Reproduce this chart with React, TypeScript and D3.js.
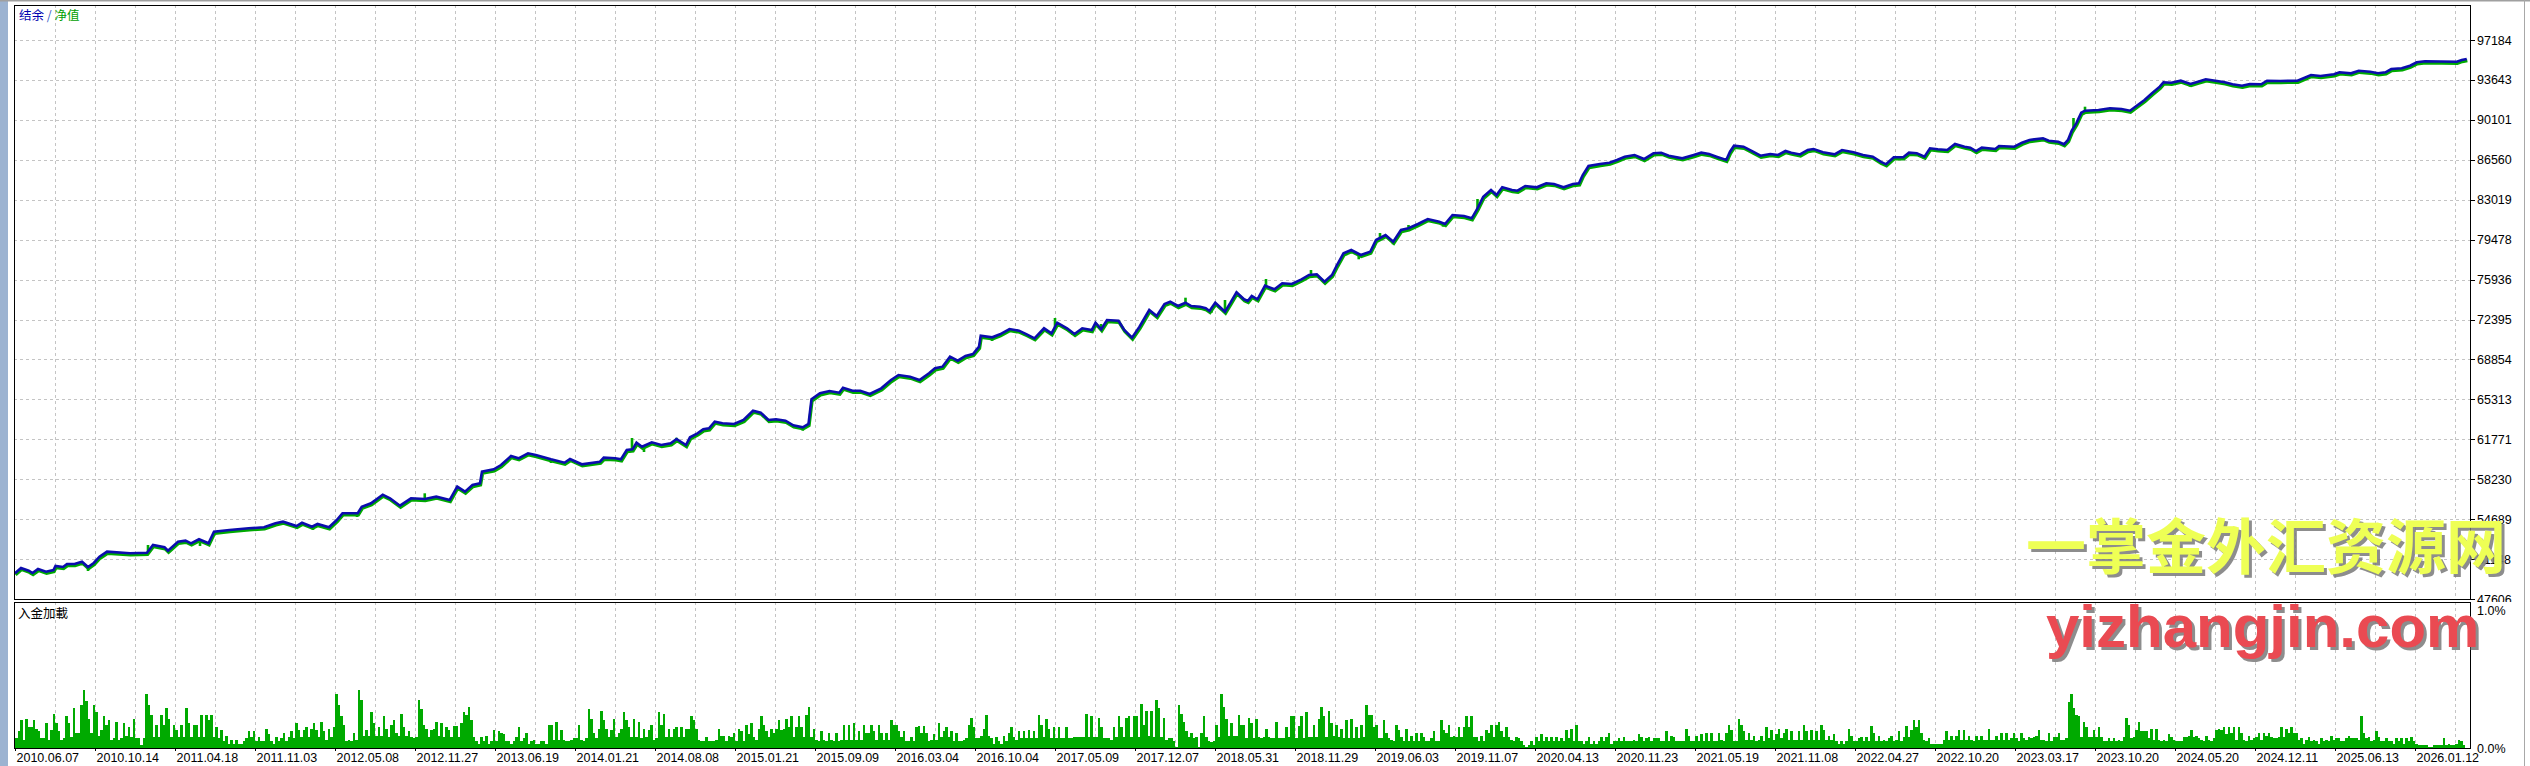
import React from 'react';
import * as d3 from 'd3';

// right axis of the balance panel
const balanceTicks = [47606, 51148, 54689, 58230, 61771, 65313, 68854, 72395, 75936, 79478, 83019, 86560, 90101, 93643, 97184];

// date labels under the chart, one every 32 trades
const dateLabels = [
  '2010.06.07', '2010.10.14', '2011.04.18', '2011.11.03', '2012.05.08', '2012.11.27', '2013.06.19',
  '2014.01.21', '2014.08.08', '2015.01.21', '2015.09.09', '2016.03.04', '2016.10.04', '2017.05.09',
  '2017.12.07', '2018.05.31', '2018.11.29', '2019.06.03', '2019.11.07', '2020.04.13', '2020.11.23',
  '2021.05.19', '2021.11.08', '2022.04.27', '2022.10.20', '2023.03.17', '2023.10.20', '2024.05.20',
  '2024.12.11', '2025.06.13', '2026.01.12',
];

const TRADES = 982;

// balance curve: [trade number, balance]
const balance: [number, number][] = [
  [0, 49885], [2.4, 50355], [5.5, 50116], [7, 49912], [9.2, 50267], [12.4, 50027], [15.4, 50178], [16.2, 50533],
  [19.2, 50444], [20.8, 50710], [23.8, 50710], [26.8, 50914], [29.2, 50444], [31.5, 50799], [33.8, 51358], [36.8, 51801],
  [46, 51659], [52.8, 51712], [55.2, 52395], [59.8, 52191], [61.2, 51890], [65.2, 52688], [68.2, 52777], [70.4, 52546],
  [73.6, 52901], [77.4, 52546], [79.6, 53575], [85.8, 53726], [93.5, 53876], [99.6, 53965], [104.2, 54320], [107.2, 54462],
  [112.6, 54080], [114.8, 54373], [118.8, 54018], [121, 54258], [125.6, 53965], [128.7, 54613], [131, 55207], [137.1, 55207],
  [138.7, 55792], [142.4, 56094], [147.1, 56856], [150, 56537], [154, 55881], [158.4, 56537], [163.9, 56475], [168.5, 56679],
  [173.9, 56386], [176.9, 57566], [180, 57122], [183, 57717], [186, 57867], [186.8, 58896], [191.5, 59109], [194.4, 59490],
  [198.4, 60289], [201.4, 60085], [205.2, 60528], [208.3, 60377], [214.4, 59996], [219.8, 59694], [222, 60023], [226.7, 59552],
  [234, 59783], [235.5, 60138], [240.1, 60085], [242.4, 59996], [244.7, 60821], [247, 60883], [248.6, 61468], [250.8, 61113],
  [254.7, 61504], [258.5, 61264], [262.3, 61415], [264.6, 61796], [268.4, 61264], [270, 61947], [273, 62302], [275.3, 62657],
  [277.6, 62745], [279.9, 63331], [283, 63189], [287.6, 63127], [291.4, 63481], [295.2, 64306], [298.3, 64129], [301.4, 63481],
  [304.4, 63544], [308.2, 63419], [311.3, 63011], [315.1, 62834], [317.4, 63127], [318.6, 65317], [322, 65850], [325.8, 66054],
  [329.7, 65903], [331.2, 66346], [335, 66080], [338.1, 66080], [341.9, 65787], [346.5, 66293], [350.4, 67029], [353.4, 67473],
  [358, 67322], [361.8, 67029], [365.6, 67623], [368, 68067], [371, 68209], [374, 69096], [377.1, 68741], [380.2, 69158],
  [383.2, 69335], [385.6, 69983], [386.3, 70958], [390.9, 70816], [394, 71082], [397.8, 71552], [401.6, 71402], [404.7, 71082],
  [407.8, 70728], [411.6, 71614], [414.6, 71171], [416.9, 72111], [420.8, 71614], [423.8, 71109], [426.9, 71614], [430.7, 71464],
  [432.2, 72111], [434.5, 71526], [436.8, 72351], [441.4, 72289], [443.7, 71464], [446.8, 70781], [449.8, 71756], [453.7, 73237],
  [456.7, 72705], [459.8, 73770], [462.1, 73974], [465.2, 73592], [468.2, 73885], [470.5, 73592], [474, 73530], [476.3, 73388],
  [477.8, 73149], [480.1, 73885], [484, 73087], [486.2, 73885], [488.6, 74807], [491.6, 74186], [493.1, 74036], [494.7, 74479],
  [497, 74186], [500, 75393], [503.8, 75073], [506.9, 75606], [510.7, 75543], [514.6, 75960], [517.6, 76342], [520.7, 76404],
  [523.8, 75747], [526.8, 76342], [528.8, 77228], [531.4, 78266], [534.5, 78559], [538.3, 78115], [542.1, 78408], [544.4, 79446],
  [548.2, 79889], [551.3, 79295], [554.4, 80333], [557.4, 80483], [561.2, 80865], [565.1, 81308], [569.7, 81069], [572, 80865],
  [575, 81663], [579.6, 81574], [582.7, 81370], [585, 82257], [587.3, 83286], [590.4, 83880], [592.6, 83437], [594.9, 84120],
  [598.8, 83880], [601, 83818], [604.1, 84235], [608.7, 84120], [612.5, 84474], [615.6, 84412], [619.4, 84120], [623.2, 84412],
  [625.6, 84474], [627.1, 85211], [629.4, 86009], [634, 86186], [637.8, 86302], [640.8, 86541], [643.9, 86834], [647.8, 86984],
  [651.6, 86630], [655.4, 87135], [658.5, 87188], [661.5, 86922], [666.9, 86692], [671.5, 86984], [674.5, 87188], [677.6, 87073],
  [680.6, 86834], [684.5, 86541], [686, 87277], [687.6, 87809], [691.4, 87721], [695.2, 87277], [698.2, 86922], [702.1, 87073],
  [705.2, 86984], [708.2, 87339], [710.5, 87188], [714, 87030], [717.1, 87428], [719.4, 87517], [723.2, 87224], [727.8, 87047],
  [730.8, 87428], [735.4, 87224], [739.2, 86984], [743.1, 86834], [746.2, 86390], [748.4, 86159], [751.5, 86780], [755.3, 86780],
  [757.6, 87188], [760.7, 87135], [763.8, 86834], [766, 87579], [769.1, 87490], [772.9, 87428], [776, 87960], [779.8, 87721],
  [782.1, 87632], [784.4, 87339], [786.7, 87632], [792.1, 87517], [793.6, 87783], [799.7, 87721], [802.8, 88076], [805.8, 88315],
  [811.2, 88466], [813.5, 88253], [817.3, 88164], [819.6, 87933], [821.2, 88315], [822.7, 89140], [824.5, 89796], [826.5, 90736],
  [828, 90913], [833.4, 90975], [838, 91126], [842.6, 91064], [846, 90913], [848.7, 91357], [851.8, 91862], [854.8, 92457],
  [857.9, 93042], [859.4, 93432], [862.5, 93396], [866.3, 93574], [870.2, 93281], [873.2, 93485], [876.3, 93698], [880.8, 93547],
  [883.9, 93432], [887, 93255], [890.8, 93131], [893.9, 93281], [898.5, 93255], [900.8, 93574], [906.1, 93547], [913, 93574],
  [918.4, 94080], [922.2, 93991], [927.6, 94142], [929.8, 94319], [934.4, 94230], [937.5, 94461], [942.1, 94372], [945.2, 94230],
  [948.2, 94319], [950.5, 94612], [954.7, 94674], [958, 94905], [960.7, 95206], [964, 95294], [976.7, 95259], [978.7, 95410],
  [980.7, 95499],
];

// equity where it moves away from the balance: [trade number, equity]
const equityMoves: [number, number][] = [
  [6.8, 49735], [29.2, 50089], [53.2, 52395], [74, 52307], [119.2, 53726], [136.8, 54879], [163.9, 56981], [214.4, 59668],
  [246.8, 61885], [251.6, 60643], [264.6, 61912], [315.1, 62533], [390.8, 70488], [416, 72528], [423, 71020], [434.4, 71996],
  [446.8, 70665], [468.2, 74329], [478.6, 72998], [484, 74124], [500.4, 75987], [503.8, 74861], [518.4, 76786], [537.5, 77734],
  [546, 80067], [551.2, 79065], [557.4, 80776], [571.2, 80625], [582.7, 81157], [585, 83082], [685.2, 86452], [748.4, 86070],
  [763.6, 86630], [784.4, 87135], [819.6, 87783], [823.4, 90266], [828, 91268], [870, 93042], [890.8, 92900],
];

// deposit load per trade, in hundredths of a percent
const loadPart1 = [
  7, 12, 20, 6, 21, 15, 15, 20, 14, 12, 7, 7, 18, 6, 13, 25,
  18, 12, 6, 7, 23, 18, 8, 29, 11, 11, 31, 42, 34, 21, 11, 31,
  26, 9, 13, 23, 17, 20, 6, 7, 19, 6, 7, 18, 9, 15, 8, 21,
  7, 7, 2, 7, 39, 31, 24, 8, 17, 8, 24, 17, 29, 21, 8, 17,
  13, 8, 17, 8, 29, 18, 8, 17, 17, 8, 24, 8, 24, 20, 24, 8,
  15, 7, 13, 5, 9, 3, 6, 3, 6, 3, 3, 5, 7, 12, 8, 12,
  5, 8, 5, 5, 14, 10, 5, 3, 8, 5, 7, 11, 5, 8, 12, 7,
  18, 13, 8, 13, 15, 8, 14, 18, 13, 8, 19, 12, 6, 14, 8, 15,
  39, 31, 23, 17, 5, 6, 5, 11, 6, 42, 35, 9, 13, 9, 26, 18,
  9, 15, 9, 23, 14, 8, 17, 20, 11, 9, 25, 15, 9, 12, 8, 7,
  8, 35, 28, 17, 14, 8, 13, 14, 19, 9, 18, 8, 15, 13, 8, 16,
  16, 8, 18, 26, 24, 30, 20, 8, 5, 3, 8, 5, 9, 3, 5, 13,
  5, 12, 11, 10, 5, 5, 3, 5, 8, 15, 5, 7, 11, 3, 5, 6,
  3, 3, 5, 5, 3, 17, 17, 6, 19, 6, 13, 6, 5, 5, 6, 7,
  7, 17, 6, 5, 7, 28, 21, 11, 7, 14, 27, 20, 14, 8, 13, 21,
  8, 11, 14, 26, 20, 15, 8, 21, 8, 19, 7, 14, 8, 13, 17, 6,
];
const loadPart2 = [
  7, 26, 17, 25, 8, 14, 8, 14, 15, 8, 15, 8, 14, 14, 23, 20,
  14, 6, 5, 5, 8, 5, 5, 5, 6, 14, 9, 9, 5, 9, 8, 11,
  5, 14, 12, 5, 17, 10, 18, 8, 6, 14, 23, 17, 12, 8, 14, 11,
  14, 20, 13, 14, 21, 15, 23, 8, 15, 23, 15, 8, 24, 30, 8, 14,
  6, 5, 12, 6, 5, 11, 6, 5, 11, 5, 6, 17, 6, 17, 6, 18,
  6, 12, 6, 17, 11, 11, 17, 12, 6, 17, 11, 6, 11, 6, 20, 17,
  17, 12, 8, 12, 5, 5, 8, 5, 15, 16, 11, 16, 11, 5, 6, 10,
  6, 18, 8, 12, 15, 8, 12, 5, 11, 5, 5, 6, 7, 17, 22, 15,
  7, 7, 9, 14, 24, 9, 7, 3, 8, 5, 3, 9, 5, 11, 15, 8,
  6, 12, 7, 12, 7, 13, 7, 12, 7, 24, 17, 8, 21, 14, 7, 15,
  7, 15, 7, 7, 15, 7, 7, 8, 8, 8, 8, 8, 25, 8, 23, 8,
  8, 22, 15, 7, 7, 7, 6, 15, 8, 23, 15, 8, 22, 23, 8, 23,
  23, 8, 32, 17, 27, 9, 27, 8, 35, 29, 8, 22, 6, 7, 7, 5,
  1, 31, 25, 19, 12, 8, 11, 7, 8, 1, 11, 23, 8, 5, 4, 5,
  17, 8, 39, 30, 21, 9, 18, 9, 9, 24, 17, 17, 7, 22, 18, 7,
  21, 8, 7, 8, 14, 8, 7, 7, 19, 7, 7, 7, 15, 8, 23, 23,
];
const loadPart3 = [
  7, 16, 23, 7, 26, 8, 8, 17, 8, 21, 30, 23, 8, 27, 18, 9,
  17, 8, 14, 7, 20, 7, 21, 7, 15, 7, 17, 8, 31, 24, 24, 15,
  17, 7, 7, 20, 11, 7, 6, 5, 17, 13, 8, 5, 14, 5, 9, 5,
  11, 5, 11, 8, 5, 5, 7, 12, 5, 5, 20, 13, 11, 17, 8, 9,
  8, 15, 8, 15, 23, 15, 23, 8, 8, 5, 9, 5, 13, 11, 17, 8,
  17, 19, 12, 8, 15, 8, 6, 5, 8, 7, 5, 2, 1, 2, 5, 2,
  8, 5, 10, 5, 8, 5, 8, 5, 8, 5, 7, 5, 13, 7, 14, 5,
  17, 5, 5, 3, 5, 8, 3, 5, 3, 5, 8, 5, 8, 11, 3, 5,
  5, 7, 5, 8, 5, 5, 5, 6, 5, 10, 8, 5, 7, 8, 5, 7,
  7, 7, 5, 5, 12, 5, 9, 8, 5, 5, 5, 5, 14, 9, 5, 5,
  9, 5, 10, 5, 11, 5, 11, 5, 5, 11, 6, 5, 11, 17, 13, 5,
  5, 21, 17, 12, 6, 11, 6, 9, 5, 6, 9, 5, 15, 7, 13, 6,
  10, 14, 7, 11, 14, 6, 12, 6, 6, 12, 6, 17, 12, 6, 13, 6,
  12, 6, 17, 13, 6, 9, 6, 10, 5, 3, 5, 3, 5, 14, 9, 5,
  5, 7, 8, 5, 8, 5, 16, 11, 5, 9, 5, 6, 5, 7, 9, 5,
  6, 12, 5, 8, 16, 8, 13, 20, 15, 20, 11, 6, 5, 7, 3, 3,
];
const loadPart4 = [
  3, 3, 3, 6, 12, 6, 9, 6, 9, 13, 6, 13, 6, 9, 6, 5,
  9, 6, 9, 6, 6, 14, 6, 6, 9, 6, 11, 6, 11, 6, 7, 11,
  7, 5, 11, 7, 6, 8, 7, 8, 9, 13, 6, 6, 5, 11, 5, 8,
  8, 11, 6, 6, 7, 33, 39, 29, 24, 23, 8, 19, 15, 8, 8, 13,
  8, 15, 8, 5, 5, 7, 5, 7, 5, 6, 5, 8, 22, 17, 7, 8,
  13, 19, 12, 12, 12, 7, 14, 6, 14, 6, 5, 6, 5, 10, 8, 6,
  5, 5, 5, 8, 8, 9, 13, 8, 9, 7, 6, 5, 9, 6, 5, 7,
  13, 14, 13, 15, 10, 15, 11, 15, 6, 15, 11, 6, 5, 9, 6, 7,
  8, 11, 6, 11, 9, 11, 8, 7, 7, 8, 15, 8, 14, 11, 15, 11,
  11, 6, 7, 3, 6, 8, 5, 6, 5, 3, 7, 5, 6, 5, 9, 6,
  7, 7, 5, 5, 7, 9, 7, 7, 7, 6, 23, 11, 7, 8, 5, 6,
  12, 8, 5, 5, 7, 5, 5, 3, 7, 5, 7, 3, 7, 5, 8, 5,
  3, 2, 2, 2, 2, 1, 1, 2, 2, 2, 2, 7, 2, 3, 2, 2,
  3, 6, 5, 2,
];

const W = 2530;
const H = 766;
const L = 14, R = 2471, T = 5, MB = 599, ST = 602, SB = 748;

const BLUE = '#0c0cae';
const GREEN = '#00aa00';
const GRID = '#c4c4c4';
const AXIS_FONT = '"Liberation Sans", Arial, sans-serif';
const CJK_FONT = '"Noto Sans CJK SC", sans-serif';

const App: React.FC = () => {
  const x = d3.scaleLinear().domain([0, TRADES]).range([15, 2470]);
  const y = d3.scaleLinear().domain([47606, 97184]).range([599, 40]);
  const yLoad = d3.scaleLinear().domain([0, 1]).range([SB, 610]);

  const load = [...loadPart1, ...loadPart2, ...loadPart3, ...loadPart4];

  const line = d3.line<[number, number]>()
    .x(d => x(d[0]))
    .y(d => y(d[1]));

  const bisect = d3.bisector((d: [number, number]) => d[0]).left;
  const balanceAt = (n: number) => {
    const i = bisect(balance, n);
    if (i <= 0) return balance[0][1];
    if (i >= balance.length) return balance[balance.length - 1][1];
    const a = balance[i - 1], b = balance[i];
    return a[1] + (b[1] - a[1]) * (n - a[0]) / (b[0] - a[0]);
  };

  const vGrid = d3.range(16, TRADES, 16);
  const barW = x(1) - x(0);

  return (
    <svg width={W} height={H} style={{ position: 'absolute', left: 0, top: 0, display: 'block', background: '#fff' }}>
      <defs>
        <clipPath id="mainLabels">
          <rect x={R} y={0} width={W - R} height={ST} />
        </clipPath>
        <clipPath id="mainPlot">
          <rect x={L} y={T} width={R - L} height={MB - T} />
        </clipPath>
      </defs>

      {/* window chrome */}
      <rect x={0} y={0} width={8} height={H} fill="#9cb3d1" />
      <rect x={0} y={0} width={W} height={1.5} fill="#a0a0a0" />
      <line x1={2524.5} x2={2524.5} y1={0} y2={H} stroke="#a8a8a8" />

      {/* grid */}
      {vGrid.map(n => (
        <g key={'v' + n}>
          <line x1={Math.round(x(n)) + 0.5} x2={Math.round(x(n)) + 0.5} y1={T} y2={MB}
            stroke={GRID} strokeDasharray="3,3" />
          <line x1={Math.round(x(n)) + 0.5} x2={Math.round(x(n)) + 0.5} y1={ST} y2={SB}
            stroke={GRID} strokeDasharray="3,3" />
        </g>
      ))}
      {balanceTicks.slice(1).map(t => (
        <line key={'h' + t} x1={L} x2={R} y1={Math.round(y(t)) + 0.5} y2={Math.round(y(t)) + 0.5}
          stroke={GRID} strokeDasharray="3,3" />
      ))}

      {/* equity and balance */}
      <g clipPath="url(#mainPlot)">
        <path d={line(balance) ?? ''} fill="none" stroke={GREEN} strokeWidth={3.2}
          transform="translate(0.6,1.6)" />
        {equityMoves.map(([n, v]) => (
          <line key={'e' + n} x1={x(n)} x2={x(n)} y1={y(balanceAt(n)) + 1} y2={y(v)}
            stroke={GREEN} strokeWidth={2.6} />
        ))}
        <path d={line(balance) ?? ''} fill="none" stroke={BLUE} strokeWidth={2.6} />
      </g>

      {/* deposit load bars */}
      <g shapeRendering="crispEdges">
        {load.map((v, i) => (
          <rect key={'b' + i} x={x(i)} width={barW} y={yLoad(v / 100)} height={SB - yLoad(v / 100)} fill={GREEN} />
        ))}
      </g>

      {/* frames */}
      <rect x={L + 0.5} y={T + 0.5} width={R - L - 1} height={MB - T} fill="none" stroke="#000" />
      <rect x={L + 0.5} y={ST + 0.5} width={R - L - 1} height={SB - ST} fill="none" stroke="#000" />

      {/* right axis */}
      <g clipPath="url(#mainLabels)">
        {balanceTicks.map(t => (
          <g key={'t' + t}>
            <line x1={R} x2={R + 4} y1={Math.round(y(t)) + 0.5} y2={Math.round(y(t)) + 0.5} stroke="#000" />
            <text x={2477} y={y(t)} dy="0.36em" fontFamily={AXIS_FONT} fontSize={12.5} fill="#000">{t}</text>
          </g>
        ))}
      </g>
      <text x={2477} y={yLoad(1)} dy="0.36em" fontFamily={AXIS_FONT} fontSize={12.5} fill="#000">1.0%</text>
      <text x={2477} y={yLoad(0)} dy="0.36em" fontFamily={AXIS_FONT} fontSize={12.5} fill="#000">0.0%</text>

      {/* bottom axis */}
      {dateLabels.map((d, i) => (
        <g key={d}>
          <line x1={Math.round(x(i * 32)) + 0.5} x2={Math.round(x(i * 32)) + 0.5} y1={SB} y2={SB + 3} stroke="#000" />
          <text x={x(i * 32) + 1.5} y={762} fontFamily={AXIS_FONT} fontSize={12.5} fill="#000">{d}</text>
        </g>
      ))}

      {/* panel titles */}
      <text x={19} y={20} fontFamily={CJK_FONT} fontSize={12.5}>
        <tspan fill="#0000b0">结余 </tspan>
        <tspan fill="#3a5cc8">/</tspan>
        <tspan fill="#00a000"> 净值</tspan>
      </text>
      <text x={18} y={618} fontFamily={CJK_FONT} fontSize={12.5} fill="#000">入金加載</text>

      {/* watermark */}
      <g fontFamily={CJK_FONT} fontWeight={700} fontSize={60}>
        <text x={2029} y={572} fill="#7a7a7a" opacity={0.85}>一掌金外汇资源网</text>
        <text x={2026} y={569} fill="#eeff55">一掌金外汇资源网</text>
      </g>
      <g fontFamily={AXIS_FONT} fontWeight={700} fontSize={60}>
        <text x={2049} y={650} fill="#7a7a7a" opacity={0.85}>yizhangjin.com</text>
        <text x={2046} y={647} fill="#ea4a52">yizhangjin.com</text>
      </g>
    </svg>
  );
};

export default App;
